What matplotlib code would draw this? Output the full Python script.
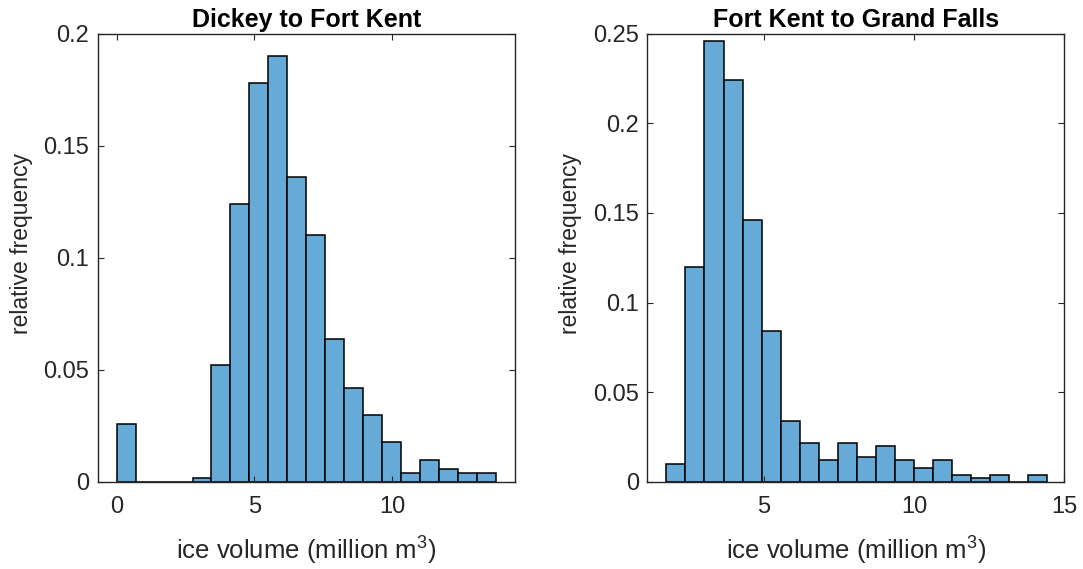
import numpy as np
import matplotlib
matplotlib.use("Agg")
import matplotlib.pyplot as plt

plt.rcParams['font.family'] = ['Liberation Sans', 'DejaVu Sans']
plt.rcParams['mathtext.fontset'] = 'custom'
plt.rcParams['mathtext.rm'] = 'Liberation Sans'
plt.rcParams['mathtext.it'] = 'Liberation Sans'

# Dickey to Fort Kent: 20 bins starting at 0
dfk_start = 0.0
dfk_width = 0.689
dfk_freq = [0.026, 0, 0, 0, 0.002, 0.052, 0.124, 0.178, 0.190, 0.136,
            0.110, 0.064, 0.042, 0.030, 0.018, 0.004, 0.010, 0.006, 0.004, 0.004]

# Fort Kent to Grand Falls: 20 bins
fkgf_start = 1.76
fkgf_width = 0.634
fkgf_freq = [0.010, 0.120, 0.246, 0.224, 0.146, 0.084, 0.034, 0.022, 0.012, 0.022,
             0.014, 0.020, 0.012, 0.008, 0.012, 0.004, 0.002, 0.004, 0.0, 0.004]

titles = ["Dickey to Fort Kent", "Fort Kent to Grand Falls"]
dfk_yticks = [0, 0.05, 0.1, 0.15, 0.2]
dfk_yticklabels = ["0", "0.05", "0.1", "0.15", "0.2"]
fkgf_yticks = [0, 0.05, 0.1, 0.15, 0.2, 0.25]
fkgf_yticklabels = ["0", "0.05", "0.1", "0.15", "0.2", "0.25"]

face = "#66aad7"
axcol = "#262626"

fig = plt.figure(figsize=(10.83, 5.69), dpi=100)
ax1 = fig.add_axes([0.0902, 0.1529, 0.3853, 0.788])
ax2 = fig.add_axes([0.5977, 0.1529, 0.3850, 0.788])


def draw(ax, start, width, freq, title, yticks, yticklabels, xticks, xlim):
    edges = start + width * np.arange(len(freq) + 1)
    ax.bar(edges[:-1], freq, width=width, align='edge', color=face,
           edgecolor='black', linewidth=1.1)
    ax.set_xlim(*xlim)
    ax.set_ylim(0, yticks[-1])
    ax.set_yticks(yticks)
    ax.set_yticklabels(yticklabels)
    ax.set_xticks(xticks)
    ax.set_xticklabels([str(t) for t in xticks])
    ax.tick_params(direction='in', top=True, right=True, length=4,
                   width=0.8, colors=axcol, labelsize=17)
    ax.tick_params(axis='x', pad=10)
    ax.tick_params(axis='y', pad=6)
    for s in ax.spines.values():
        s.set_color(axcol)
        s.set_linewidth(1.0)
    ax.set_title(title, fontsize=18, fontweight='bold', pad=5)
    ax.set_xlabel(r"ice volume (million m$^3$)", fontsize=18.5, color=axcol, labelpad=12)
    ax.set_ylabel("relative frequency", fontsize=16.5, color=axcol)
    ax.yaxis.set_label_coords(-0.156, 0.531)


draw(ax1, dfk_start, dfk_width, dfk_freq, titles[0], dfk_yticks, dfk_yticklabels,
     [0, 5, 10], (dfk_start - dfk_width, dfk_start + 21 * dfk_width))
draw(ax2, fkgf_start, fkgf_width, fkgf_freq, titles[1], fkgf_yticks, fkgf_yticklabels,
     [5, 10, 15], (fkgf_start - fkgf_width, 15))

fig.savefig("out.png", dpi=100)
